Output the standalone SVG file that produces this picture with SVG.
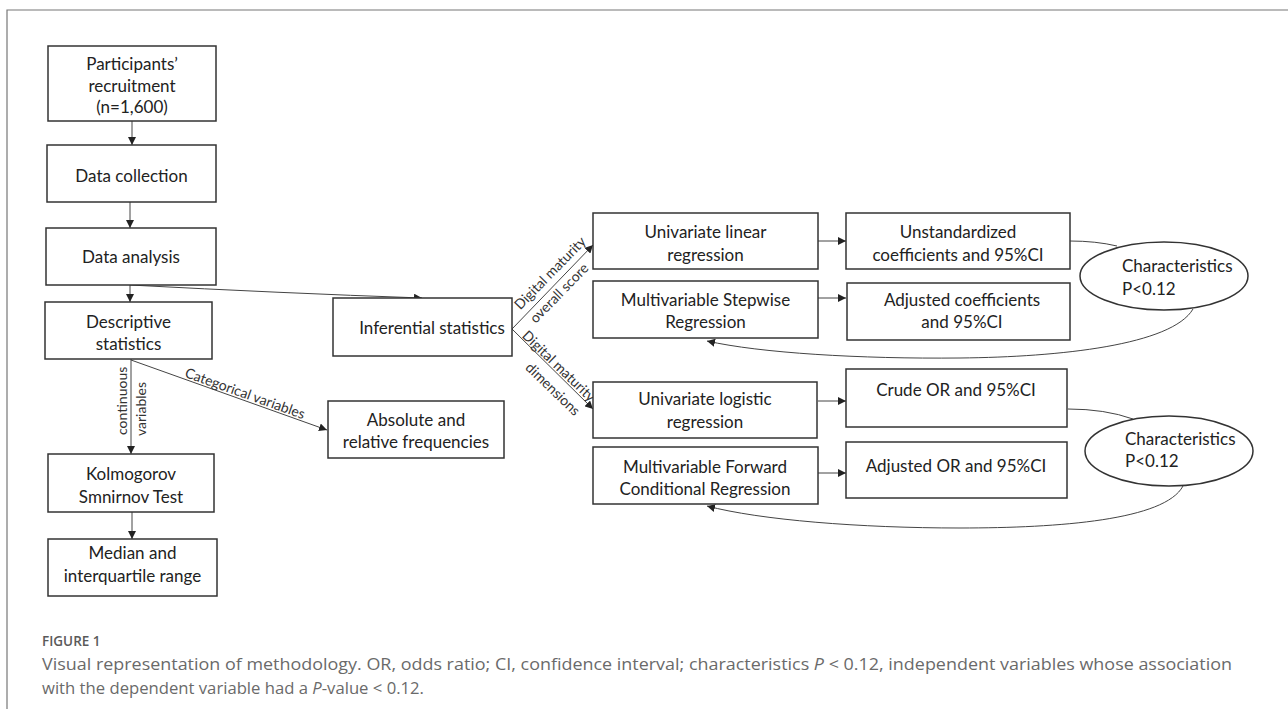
<svg xmlns="http://www.w3.org/2000/svg" width="1288" height="709" viewBox="0 0 1288 709">
<defs>
<marker id="ah" viewBox="0 0 10 10" refX="10" refY="5" markerWidth="8" markerHeight="8" markerUnits="userSpaceOnUse" orient="auto">
<path d="M0,0 L10,5 L0,10 z" fill="#222"/>
</marker>
<style>
.box{fill:#fff;stroke:#333;stroke-width:1.5}
.t{font-family:Lato,"Liberation Sans",sans-serif;font-size:17px;fill:#222;text-anchor:middle}
.tl{font-family:Lato,"Liberation Sans",sans-serif;font-size:17px;fill:#222}
.lbl{font-family:Lato,"Liberation Sans",sans-serif;font-size:14px;fill:#333}
.c{fill:none;stroke:#444;stroke-width:1}
.ca{fill:none;stroke:#444;stroke-width:1;marker-end:url(#ah)}
.cap{font-family:"Open Sans","Liberation Sans",sans-serif;font-size:16.5px;fill:#6a6a6a}
</style>
</defs>
<rect width="1288" height="709" fill="#fff"/>
<path d="M1288,10 H7 V709" fill="none" stroke="#777" stroke-width="1.2"/>

<g id="connectors">
<line class="ca" x1="132" y1="121" x2="132" y2="145"/>
<line class="ca" x1="130" y1="202" x2="130" y2="228"/>
<line class="ca" x1="130" y1="285" x2="130" y2="302"/>
<path class="ca" d="M130,285 Q280,293 422,298"/>
<line class="ca" x1="131" y1="359" x2="131" y2="454"/>
<line class="ca" x1="132" y1="512" x2="132" y2="539"/>
<line class="ca" x1="131" y1="360" x2="327" y2="430"/>
<line class="ca" x1="512" y1="329" x2="593" y2="245"/>
<line class="ca" x1="512" y1="329" x2="593" y2="409"/>
<line class="ca" x1="818" y1="241" x2="846" y2="241"/>
<line class="ca" x1="818" y1="298" x2="846" y2="298"/>
<line class="ca" x1="818" y1="401" x2="846" y2="401"/>
<line class="ca" x1="818" y1="473" x2="846" y2="473"/>
<path class="c" d="M1070,241 Q1096,241 1117,246"/>
<path class="ca" d="M1193,309 C1172,345 1060,357 960,358 C860,359 760,353 707,341"/>
<path class="c" d="M1068,409 Q1105,409 1133,419"/>
<path class="ca" d="M1183,486 C1165,520 1060,528 960,528 C860,528 760,520 707,506"/>
<text class="lbl" transform="translate(127,435) rotate(-90)">continuous</text>
<text class="lbl" transform="translate(146,436) rotate(-90)">variables</text>
<text class="lbl" text-anchor="middle" transform="translate(243.5,398) rotate(19.65)">Categorical variables</text>
<text class="lbl" text-anchor="middle" transform="translate(553.6,276.5) rotate(-45.7)">Digital maturity</text>
<text class="lbl" text-anchor="middle" transform="translate(562.6,296.5) rotate(-45.7)">overall score</text>
<text class="lbl" text-anchor="middle" transform="translate(555.5,369.6) rotate(43.9)">Digital maturity</text>
<text class="lbl" text-anchor="middle" transform="translate(549.5,392.6) rotate(43.9)">dimensions</text>
</g>

<g id="n-recruit"><rect class="box" x="48" y="46" width="168" height="75"/>
<text class="t" x="132" y="70">Participants’</text><text class="t" x="132" y="92">recruitment</text><text class="t" x="132" y="113">(n=1,600)</text></g>
<g id="n-collect"><rect class="box" x="47" y="145" width="169" height="57"/>
<text class="t" x="131.5" y="182">Data collection</text></g>
<g id="n-analysis"><rect class="box" x="46" y="228" width="170" height="57"/>
<text class="t" x="131" y="263">Data analysis</text></g>
<g id="n-descr"><rect class="box" x="45" y="302" width="167" height="57"/>
<text class="t" x="128.5" y="328">Descriptive</text><text class="t" x="128.5" y="350">statistics</text></g>
<g id="n-ks"><rect class="box" x="48" y="454" width="166" height="58"/>
<text class="t" x="131" y="480">Kolmogorov</text><text class="t" x="131" y="503">Smnirnov Test</text></g>
<g id="n-median"><rect class="box" x="48" y="539" width="169" height="57"/>
<text class="t" x="132.5" y="559">Median and</text><text class="t" x="132.5" y="582">interquartile range</text></g>
<g id="n-absolute"><rect class="box" x="328" y="401" width="176" height="57"/>
<text class="t" x="416" y="426">Absolute and</text><text class="t" x="416" y="448">relative frequencies</text></g>
<g id="n-infer"><rect class="box" x="333" y="298" width="179" height="58"/>
<text class="t" x="432" y="334">Inferential statistics</text></g>
<g id="n-ulin"><rect class="box" x="593" y="213" width="225" height="56"/>
<text class="t" x="705.5" y="238">Univariate linear</text><text class="t" x="705.5" y="261">regression</text></g>
<g id="n-step"><rect class="box" x="593" y="281" width="225" height="57"/>
<text class="t" x="705.5" y="306">Multivariable Stepwise</text><text class="t" x="705.5" y="328">Regression</text></g>
<g id="n-unstd"><rect class="box" x="846" y="213" width="224" height="56"/>
<text class="t" x="958" y="238">Unstandardized</text><text class="t" x="958" y="261">coefficients and 95%CI</text></g>
<g id="n-adjcoef"><rect class="box" x="847" y="283" width="223" height="57"/>
<text class="t" x="962" y="306">Adjusted coefficients</text><text class="t" x="962" y="328">and 95%CI</text></g>
<g id="n-char1"><ellipse class="box" cx="1164" cy="276" rx="84" ry="34"/>
<text class="tl" x="1122" y="272">Characteristics</text><text class="tl" x="1122" y="295">P&lt;0.12</text></g>
<g id="n-ulog"><rect class="box" x="593" y="382" width="224" height="56"/>
<text class="t" x="705" y="405">Univariate logistic</text><text class="t" x="705" y="428">regression</text></g>
<g id="n-fwd"><rect class="box" x="593" y="447" width="225" height="57"/>
<text class="t" x="705" y="473">Multivariable Forward</text><text class="t" x="705" y="495">Conditional Regression</text></g>
<g id="n-crude"><rect class="box" x="846" y="369" width="221" height="58"/>
<text class="t" x="956" y="396">Crude OR and 95%CI</text></g>
<g id="n-adjor"><rect class="box" x="846" y="442" width="221" height="56"/>
<text class="t" x="956" y="472">Adjusted OR and 95%CI</text></g>
<g id="n-char2"><ellipse class="box" cx="1169" cy="451" rx="84" ry="35"/>
<text class="tl" x="1125" y="445">Characteristics</text><text class="tl" x="1125" y="467">P&lt;0.12</text></g>

<g id="caption">
<text x="42" y="646" style="font-family:'Open Sans','Liberation Sans',sans-serif;font-size:13.5px;font-weight:600;fill:#5a5a5a">FIGURE 1</text>
<text class="cap" x="42" y="670" textLength="1190" lengthAdjust="spacingAndGlyphs">Visual representation of methodology. OR, odds ratio; CI, confidence interval; characteristics <tspan font-style="italic">P</tspan> &lt; 0.12, independent variables whose association</text>
<text class="cap" x="42" y="694" textLength="382" lengthAdjust="spacingAndGlyphs">with the dependent variable had a <tspan font-style="italic">P</tspan>-value &lt; 0.12.</text>
</g>
</svg>
